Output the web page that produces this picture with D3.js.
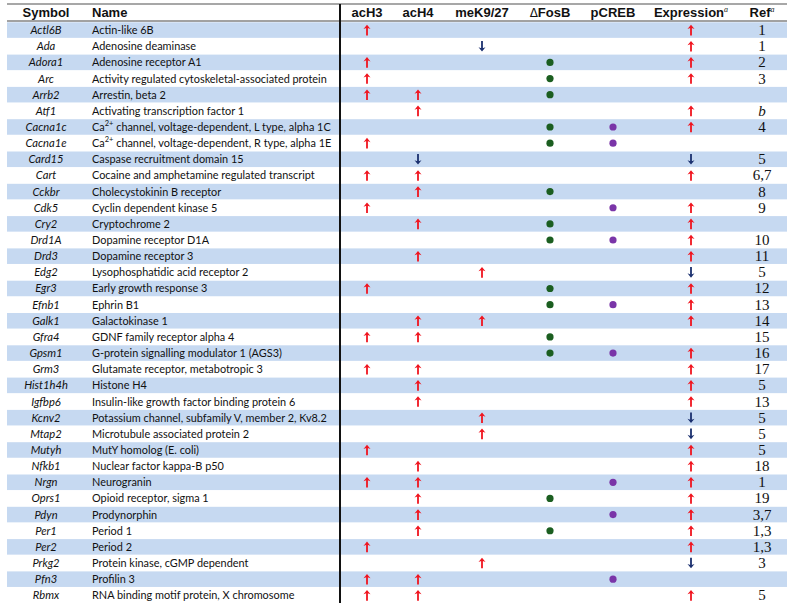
<!DOCTYPE html>
<html><head><meta charset="utf-8">
<script src="https://cdn.jsdelivr.net/npm/d3@7"></script>
<style>body{margin:0;background:#fff}</style>
</head><body>
<svg id="c" width="800" height="612"></svg>
<script>
const symbols = ["Actl6B","Ada","Adora1","Arc","Arrb2","Atf1","Cacna1c","Cacna1e","Card15","Cart","Cckbr","Cdk5","Cry2","Drd1A","Drd3","Edg2","Egr3","Efnb1","Galk1","Gfra4","Gpsm1","Grm3","Hist1h4h","Igfbp6","Kcnv2","Mtap2","Mutyh","Nfkb1","Nrgn","Oprs1","Pdyn","Per1","Per2","Prkg2","Pfn3","Rbmx"];
const names = ["Actin-like 6B","Adenosine deaminase","Adenosine receptor A1","Activity regulated cytoskeletal-associated protein","Arrestin, beta 2","Activating transcription factor 1","Ca|2+| channel, voltage-dependent, L type, alpha 1C","Ca|2+| channel, voltage-dependent, R type, alpha 1E","Caspase recruitment domain 15","Cocaine and amphetamine regulated transcript","Cholecystokinin B receptor","Cyclin dependent kinase 5","Cryptochrome 2","Dopamine receptor D1A","Dopamine receptor 3","Lysophosphatidic acid receptor 2","Early growth response 3","Ephrin B1","Galactokinase 1","GDNF family receptor alpha 4","G-protein signalling modulator 1 (AGS3)","Glutamate receptor, metabotropic 3","Histone H4","Insulin-like growth factor binding protein 6","Potassium channel, subfamily V, member 2, Kv8.2","Microtubule associated protein 2","MutY homolog (E. coli)","Nuclear factor kappa-B p50","Neurogranin","Opioid receptor, sigma 1","Prodynorphin","Period 1","Period 2","Protein kinase, cGMP dependent","Profilin 3","RNA binding motif protein, X chromosome"];
// 1 = up arrow, -1 = down arrow, 0 = none
const acH3 =       [1,0,1,1,1,0,0,1,0,1,0,1,0,0,0,0,1,0,0,1,0,1,0,0,0,0,1,0,1,0,0,0,1,0,1,1];
const acH4 =       [0,0,0,0,1,1,0,0,-1,1,1,0,1,0,1,0,0,0,1,1,0,1,1,1,0,0,0,1,1,1,1,1,0,0,1,1];
const meK927 =     [0,-1,0,0,0,0,0,0,0,0,0,0,0,0,0,1,0,0,1,0,0,0,0,0,1,1,0,0,0,0,0,0,0,1,0,0];
// 1 = dot present
const fosB =       [0,0,1,1,1,0,1,1,0,0,1,0,1,1,0,0,1,1,0,1,1,0,0,0,0,0,0,0,0,1,0,1,0,0,0,0];
const pCREB =      [0,0,0,0,0,0,1,1,0,0,0,1,0,1,0,0,0,1,0,0,1,0,0,0,0,0,0,0,1,0,1,0,0,0,1,0];
const expression = [1,1,1,1,0,1,1,0,-1,1,0,1,1,1,1,-1,1,1,1,0,1,1,1,1,-1,-1,1,1,1,1,1,1,1,-1,0,1];
const refs = ["1","1","2","3","","b","4","","5","6,7","8","9","","10","11","5","12","13","14","15","16","17","5","13","5","5","5","18","1","19","3,7","1,3","1,3","3","","5"];
const columns = ["acH3","acH4","meK9/27","ΔFosB","pCREB","Expression","Ref"];

const svg = d3.select("#c");
const left = 7, right = 787;
const y = d3.scaleBand().domain(symbols).range([22, 22 + 36*16.15]).padding(0);
const x = d3.scaleOrdinal().domain(columns).range([367, 418, 482, 550, 613, 691, 762]);
const symX = 46, nameX = 92, divX = 340;

// bands
svg.append("g").selectAll("rect").data(symbols.filter((d,i)=>i%2===0)).join("rect")
  .attr("x", left).attr("width", right-left)
  .attr("y", d=>y(d)+0.3).attr("height", y.bandwidth()-0.6)
  .attr("fill", "#c6d9f1");

// rules
svg.append("line").attr("x1",left).attr("x2",right).attr("y1",4).attr("y2",4).attr("stroke","#8a8a8a").attr("stroke-width",1.5);
svg.append("line").attr("x1",left).attr("x2",right).attr("y1",21).attr("y2",21).attr("stroke","#444").attr("stroke-width",1);
svg.append("line").attr("x1",divX).attr("x2",divX).attr("y1",4).attr("y2",603).attr("stroke","#111").attr("stroke-width",2);

// header
const hdr = svg.append("g").attr("font-family","Liberation Sans, Arial, sans-serif").attr("font-weight","bold").attr("font-size",13).attr("fill","#111");
hdr.append("text").attr("x",symX).attr("y",17).attr("text-anchor","middle").text("Symbol");
hdr.append("text").attr("x",nameX).attr("y",17).text("Name");
columns.forEach(c=>{
  const t = hdr.append("text").attr("x",x(c)).attr("y",17).attr("text-anchor","middle");
  if (c==="Expression" || c==="Ref") {
    t.append("tspan").text(c);
    t.append("tspan").attr("dy",-5).attr("font-size",8).attr("font-style","italic").attr("font-family","Liberation Serif, serif").attr("font-weight","normal").text("a");
  } else if (c==="ΔFosB") {
    t.append("tspan").attr("font-weight","normal").attr("font-family","DejaVu Sans, sans-serif").attr("font-size",12).text("Δ");
    t.append("tspan").text("FosB");
  } else t.text(c);
});

// body text
const body = svg.append("g").attr("font-family","Lato, 'Open Sans', sans-serif").attr("font-size",10.9).attr("fill","#111");
body.selectAll("text.sym").data(symbols).join("text").attr("class","sym")
  .attr("x",symX).attr("y",d=>y(d)+y.bandwidth()/2+4).attr("text-anchor","middle").attr("font-style","italic").attr("font-size",11.2).text(d=>d);
body.selectAll("text.name").data(names).join("text").attr("class","name")
  .attr("x",nameX).attr("y",(d,i)=>y(symbols[i])+y.bandwidth()/2+4)
  .each(function(d){
    const parts = d.split("|");
    const t = d3.select(this);
    if (parts.length===1) { t.text(d); return; }
    t.append("tspan").text(parts[0]);
    t.append("tspan").attr("dy",-5).attr("font-size",7.5).text(parts[1]);
    t.append("tspan").attr("dy",5).text(parts[2]);
  });

// refs
svg.append("g").attr("font-family","Liberation Serif, 'Times New Roman', serif").attr("font-size",15).attr("fill","#111")
  .selectAll("text").data(refs).join("text")
  .attr("x",x("Ref")).attr("y",(d,i)=>y(symbols[i])+y.bandwidth()/2+5).attr("text-anchor","middle")
  .attr("font-style",d=>d==="b"?"italic":"normal").text(d=>d);

// arrows
function arrows(arr, col){
  const g = svg.append("g");
  arr.forEach((v,i)=>{
    if (!v) return;
    const cx = x(col), cy = y(symbols[i]) + y.bandwidth()/2;
    const color = v>0 ? "#f0141e" : "#1a2f6e";
    const h = 5.3, s = v>0 ? -1 : 1; // tip direction
    const tipY = cy + s*h, tailY = cy - s*h;
    g.append("line").attr("x1",cx).attr("x2",cx).attr("y1",tailY).attr("y2",tipY - s*1.5)
      .attr("stroke",color).attr("stroke-width",1.8);
    g.append("path").attr("d",`M${cx-3.5},${tipY - s*4.3}L${cx},${tipY}L${cx+3.5},${tipY - s*4.3}L${cx},${tipY - s*3}Z`).attr("fill",color);
  });
}
arrows(acH3,"acH3"); arrows(acH4,"acH4"); arrows(meK927,"meK9/27"); arrows(expression,"Expression");

function dots(arr, col, color){
  svg.append("g").selectAll("circle").data(symbols.filter((d,i)=>arr[i])).join("circle")
    .attr("cx",x(col)).attr("cy",d=>y(d)+y.bandwidth()/2).attr("r",3.6).attr("fill",color);
}
dots(fosB,"ΔFosB","#1b5e20");
dots(pCREB,"pCREB","#7a35a8");
</script>
</body></html>
